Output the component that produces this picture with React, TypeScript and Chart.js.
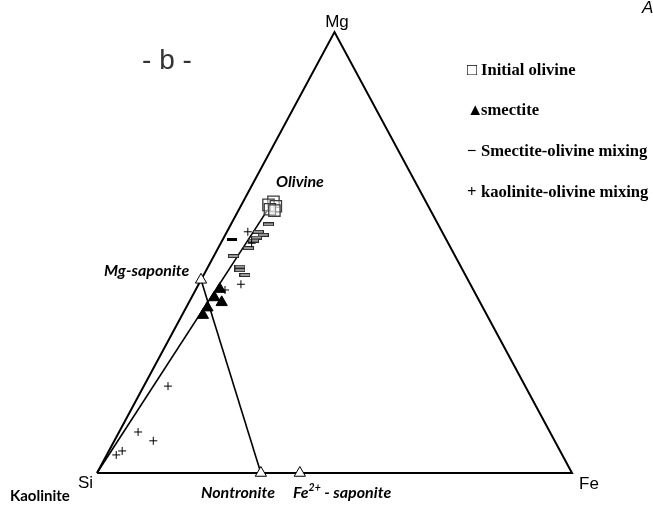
import { useEffect, useRef } from 'react';
import { Chart, registerables } from 'chart.js';
Chart.register(...registerables);

// Ternary compositions in % (Mg, Fe); Si = 100 - Mg - Fe
const vertexMg = [0, 100, 0, 0];        // Si, Mg, Fe, Si (outline)
const vertexFe = [0, 0, 100, 0];
const olivineMg = [61.5, 60.8, 60.5, 59.8, 59.5];
const olivineFe = [6.4, 5.7, 7.4, 6.5, 7.6];
const smectiteMg = [41.7, 39.8, 38.7, 37.5, 35.8];
const smectiteFe = [5.0, 4.8, 6.9, 4.5, 4.4];
const smOlMixMg = [56.4, 54.7, 54.0, 53.4, 52.7, 51.0, 49.2, 46.8, 46.0, 44.9];
const smOlMixFe = [7.9, 6.6, 8.0, 6.9, 6.6, 6.4, 4.1, 6.7, 7.1, 8.7];
const smOlMixDarkMg = [53.0];
const smOlMixDarkFe = [1.9];
const kaOlMixMg = [54.7, 52.1, 42.8, 41.5, 19.7, 9.3, 7.3, 5.0, 4.1];
const kaOlMixFe = [4.4, 6.5, 8.9, 6.2, 5.1, 4.0, 8.2, 2.8, 2.0];
const endMemberNames = ['Mg-saponite', 'Nontronite', 'Fe2+ - saponite'];
const endMemberMg = [43.8, 0, 0];
const endMemberFe = [0, 34.5, 42.7];
const olivineLineMg = [0, 60.8];       // Si -> olivine
const olivineLineFe = [0, 6.2];
const saponiteLineMg = [43.8, 0];      // Mg-saponite -> nontronite
const saponiteLineFe = [0, 34.5];
const legendLabels = ['Initial olivine', 'smectite', 'Smectite-olivine mixing', 'kaolinite-olivine mixing'];
const legendSymbols = ['\u25A1', '\u25B2', '\u2212', '+'];

const W = 653;
const H = 510;

function tern(mg: number[], fe: number[]) {
  return mg.map((m, i) => ({ x: (fe[i] + m / 2) / 100, y: m / 100 }));
}

function makeDash(fill: string, stroke: string, w: number, h: number) {
  const c = document.createElement('canvas');
  c.width = w;
  c.height = h;
  const g = c.getContext('2d')!;
  g.fillStyle = fill;
  g.fillRect(0, 0, w, h);
  g.strokeStyle = stroke;
  g.lineWidth = 1;
  g.strokeRect(0.5, 0.5, w - 1, h - 1);
  return c;
}

const textPlugin = {
  id: 'ternaryText',
  afterDatasetsDraw(chart: any) {
    const ctx = chart.ctx as CanvasRenderingContext2D;
    ctx.save();
    ctx.fillStyle = '#000';
    ctx.textBaseline = 'alphabetic';
    const sans = '"Liberation Sans", Arial, sans-serif';
    const lato = 'Lato, "Open Sans", sans-serif';
    const serif = '"Liberation Serif", "DejaVu Serif", serif';

    // vertices
    ctx.font = `17px ${sans}`;
    ctx.textAlign = 'center';
    ctx.fillText('Mg', 337, 27);
    ctx.textAlign = 'left';
    ctx.fillText('Si', 78, 488);
    ctx.fillText('Fe', 579, 489);

    // panel letter
    ctx.fillStyle = '#333';
    ctx.font = `28px ${sans}`;
    ctx.textAlign = 'center';
    ctx.fillText('- b -', 167, 69);
    ctx.fillStyle = '#000';
    ctx.font = `italic 17px ${sans}`;
    ctx.textAlign = 'left';
    ctx.fillText('A', 642, 13);

    // phase labels
    ctx.font = `bold italic 16px ${lato}`;
    ctx.fillText('Olivine', 276, 187);
    ctx.fillText(endMemberNames[0], 104, 276);
    ctx.fillText(endMemberNames[1], 201, 498);
    // Fe2+ - saponite with superscript
    let x = 293;
    ctx.fillText('Fe', x, 498);
    x += ctx.measureText('Fe').width;
    ctx.font = `bold italic 10.5px ${lato}`;
    ctx.fillText('2+', x, 491);
    x += ctx.measureText('2+').width;
    ctx.font = `bold italic 16px ${lato}`;
    ctx.fillText(' - saponite', x, 498);
    ctx.font = `bold 15px ${lato}`;
    ctx.fillText('Kaolinite', 10, 501);

    // legend
    const rows = [75, 115, 156, 197];
    legendLabels.forEach((lab, i) => {
      ctx.font = `bold 16.6px ${serif}`;
      ctx.fillText(legendSymbols[i], 467, rows[i]);
      ctx.fillText(lab, 481, rows[i]);
    });
    ctx.restore();
  },
};

export default function App() {
  const ref = useRef<HTMLCanvasElement | null>(null);

  useEffect(() => {
    document.body.style.margin = '0';
    const canvas = ref.current!;
    const grayDash = makeDash('#9a9a9a', '#2a2a2a', 11, 4);
    const blackDash = makeDash('#000', '#000', 10, 3);

    const lineBase = {
      showLine: true,
      pointRadius: 0,
      borderColor: '#000',
      borderJoinStyle: 'miter',
      tension: 0,
      fill: false,
      clip: false,
    };

    const chart = new Chart(canvas, {
      type: 'scatter',
      data: {
        datasets: [
          {
            label: 'kaolinite-olivine mixing',
            data: tern(kaOlMixMg, kaOlMixFe),
            pointStyle: 'cross',
            pointRadius: 4,
            borderColor: '#000',
            borderWidth: 1,
            clip: false,
          },
          {
            label: 'Smectite-olivine mixing',
            data: tern(smOlMixMg, smOlMixFe),
            pointStyle: grayDash,
            pointRadius: 5,
            clip: false,
          },
          {
            label: 'Smectite-olivine mixing (dark)',
            data: tern(smOlMixDarkMg, smOlMixDarkFe),
            pointStyle: blackDash,
            pointRadius: 5,
            clip: false,
          },
          {
            label: 'smectite',
            data: tern(smectiteMg, smectiteFe),
            pointStyle: 'triangle',
            pointRadius: 6.5,
            backgroundColor: '#000',
            borderColor: '#000',
            borderWidth: 1,
            clip: false,
          },
          {
            label: 'Initial olivine',
            data: tern(olivineMg, olivineFe),
            pointStyle: 'rect',
            pointRadius: 8,
            backgroundColor: 'rgba(255,255,255,0.45)',
            borderColor: '#3a3a3a',
            borderWidth: 1.3,
            clip: false,
          },
          {
            label: 'End members',
            data: tern(endMemberMg, endMemberFe),
            pointStyle: 'triangle',
            pointRadius: 6.5,
            backgroundColor: '#fff',
            borderColor: '#000',
            borderWidth: 1,
            clip: false,
          },
          { ...lineBase, label: 'Mg-saponite–nontronite', data: tern(saponiteLineMg, saponiteLineFe), borderWidth: 1.6 },
          { ...lineBase, label: 'Si–olivine', data: tern(olivineLineMg, olivineLineFe), borderWidth: 1.6 },
          { ...lineBase, label: 'Si–Mg–Fe', data: tern(vertexMg, vertexFe), borderWidth: 2 },
        ] as any,
      },
      options: {
        animation: false,
        responsive: false,
        events: [],
        layout: { padding: 0, autoPadding: false },
        plugins: { legend: { display: false }, tooltip: { enabled: false }, title: { display: false } },
        scales: {
          x: { type: 'linear', display: false, min: -97 / 475, max: (W - 97) / 475 },
          y: { type: 'linear', display: false, min: -(H - 473) / 441, max: 1 + 32 / 441 },
        },
      },
      plugins: [textPlugin],
    });
    return () => chart.destroy();
  }, []);

  return (
    <div style={{ width: W, height: H, position: 'relative', background: '#fff' }}>
      <canvas ref={ref} width={W} height={H} style={{ width: W, height: H, display: 'block' }} />
    </div>
  );
}
